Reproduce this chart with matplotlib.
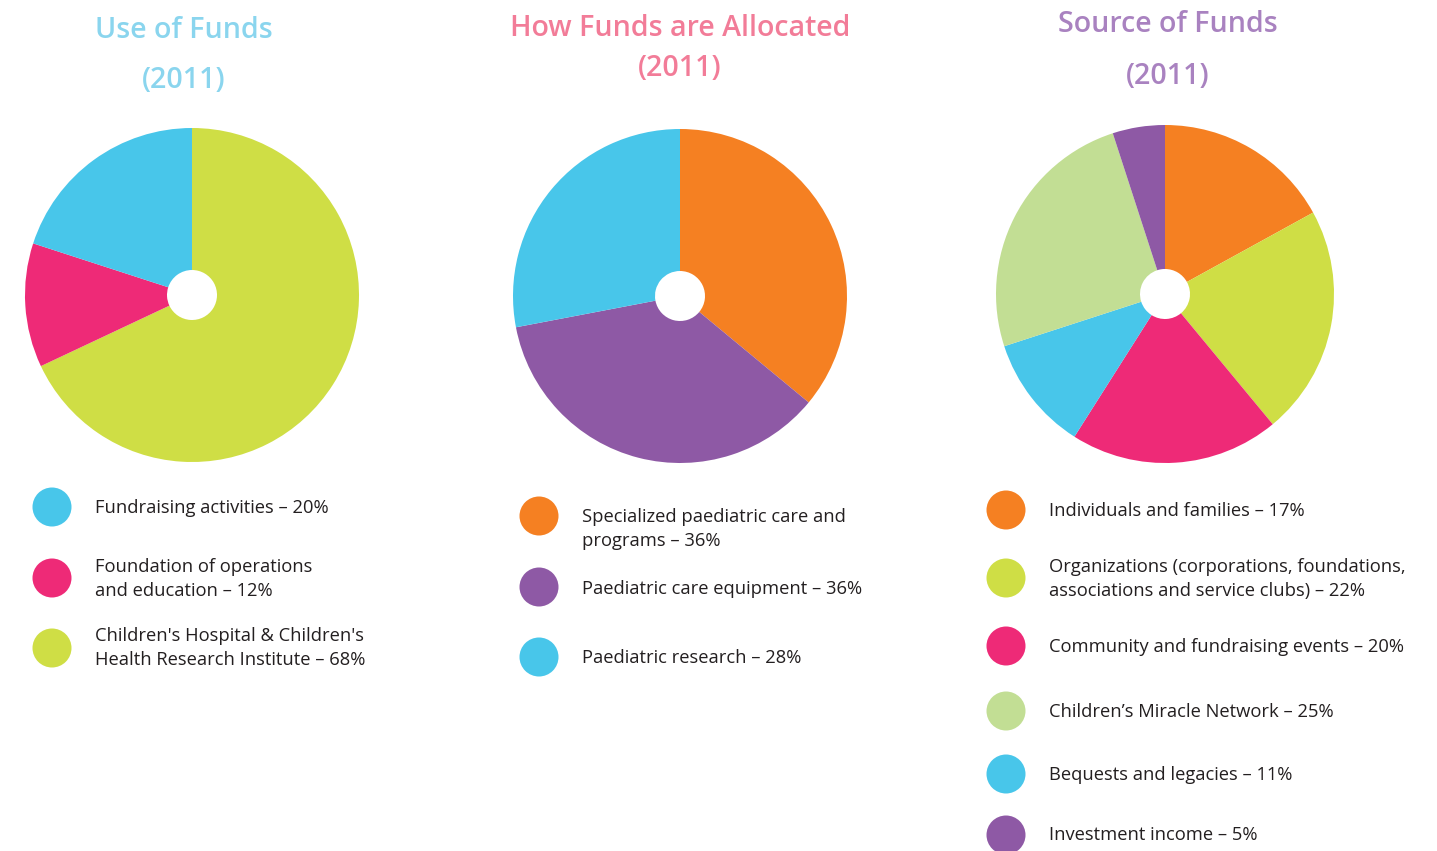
import matplotlib.pyplot as plt
from matplotlib.patches import Circle

W, H = 1437, 851

# colours
blue = '#48c6ea'
green = '#cfde45'
pink = '#ee2a77'
orange = '#f58022'
purple = '#8e59a5'
lgreen = '#c2de94'

# ---- Use of Funds (2011) ----
use_labels = ['Fundraising activities \u2013 20%',
              'Foundation of operations\nand education \u2013 12%',
              "Children's Hospital & Children's\nHealth Research Institute \u2013 68%"]
use_values = [20, 12, 68]
use_colors = [blue, pink, green]
use_order = [2, 1, 0]   # order of wedges going clockwise from the top

# ---- How Funds are Allocated (2011) ----
alloc_labels = ['Specialized paediatric care and\nprograms \u2013 36%',
                'Paediatric care equipment \u2013 36%',
                'Paediatric research \u2013 28%']
alloc_values = [36, 36, 28]
alloc_colors = [orange, purple, blue]
alloc_order = [0, 1, 2]

# ---- Source of Funds (2011) ----
src_labels = ['Individuals and families \u2013 17%',
              'Organizations (corporations, foundations,\nassociations and service clubs) \u2013 22%',
              'Community and fundraising events \u2013 20%',
              'Children\u2019s Miracle Network \u2013 25%',
              'Bequests and legacies \u2013 11%',
              'Investment income \u2013 5%']
src_values = [17, 22, 20, 25, 11, 5]
src_colors = [orange, green, pink, lgreen, blue, purple]
src_order = [0, 1, 2, 4, 3, 5]

plt.rcParams['font.family'] = ['Open Sans', 'DejaVu Sans']

fig = plt.figure(figsize=(W / 100, H / 100), dpi=100)
ax = fig.add_axes([0, 0, 1, 1])


def draw_panel(title, tcolor, tx, title_y, values, colors, labels, order,
               cx, cy, r, leg_x, dot_y, text_y):
    for t, ty in zip(title, title_y):
        ax.text(tx, H - ty, t, color=tcolor, fontsize=20.6,
                fontweight='semibold', ha='center', va='center')
    ax.pie([values[i] for i in order], colors=[colors[i] for i in order],
           startangle=90, counterclock=False, center=(cx, H - cy), radius=r,
           wedgeprops=dict(width=r - 25, linewidth=0), frame=True)
    for lab, col, yd, yt in zip(labels, colors, dot_y, text_y):
        ax.add_patch(Circle((leg_x, H - yd), 19.5, color=col, lw=0))
        for k, line in enumerate(lab.split('\n')):
            ax.text(leg_x + 43, H - (yt + 24 * k) - 6, line, fontsize=13.2,
                    color='#231f20', ha='left', va='baseline')


draw_panel(('Use of Funds', '(2011)'), '#8ad5ee', 184, (30, 80),
           use_values, use_colors, use_labels, use_order,
           192, 295, 167, 52, [507, 578, 648], [507, 566, 635])
draw_panel(('How Funds are Allocated', '(2011)'), '#f27c98', 680, (29, 68),
           alloc_values, alloc_colors, alloc_labels, alloc_order,
           680, 296, 167, 539, [516, 587, 657], [516, 588, 657])
draw_panel(('Source of Funds', '(2011)'), '#a982c0', 1168, (25, 77),
           src_values, src_colors, src_labels, src_order,
           1165, 294, 169, 1006, [510, 578, 646, 711, 774, 835],
           [510, 566, 646, 711, 774, 834])

ax.set_xlim(0, W)
ax.set_ylim(0, H)
ax.set_aspect('equal')
ax.axis('off')

fig.savefig('out.png', dpi=100, facecolor='white')
